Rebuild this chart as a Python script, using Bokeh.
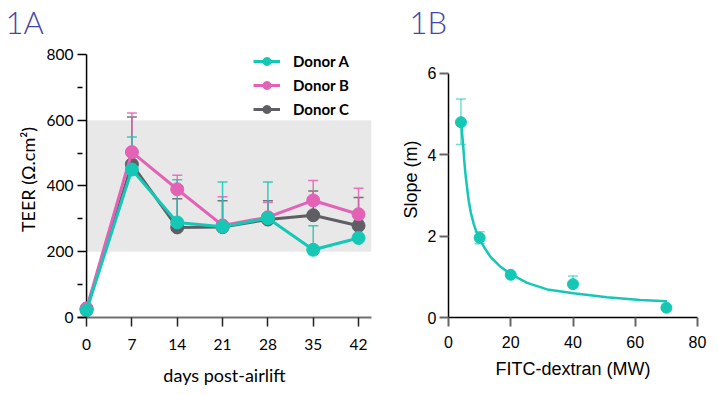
from bokeh.plotting import figure
from bokeh.models import (ColumnDataSource, Whisker, TeeHead, BoxAnnotation,
                          Legend, LegendItem, FixedTicker, Range1d, Title)
from bokeh.layouts import row
from bokeh.embed import file_html
from bokeh.resources import INLINE

# ---------------- data: panel 1A ----------------
days = [0, 7, 14, 21, 28, 35, 42]
day_ticks = [0, 7, 14, 21, 28, 35, 42]
teer_a = [22, 450, 289, 276, 302, 206, 242]
sd_a = [8, 99, 130, 136, 110, 73, 54]
teer_b = [28, 503, 390, 280, 305, 356, 314]
sd_b = [10, 119, 43, 87, 45, 61, 79]
teer_c = [25, 466, 274, 275, 298, 311, 279]
sd_c = [8, 144, 87, 80, 57, 74, 86]
donor_names = ["Donor A", "Donor B", "Donor C"]
teer_ticks = [0, 200, 400, 600, 800]
teer_minor = [100, 300, 500, 700]
band_low, band_high = 200, 600

# ---------------- data: panel 1B ----------------
mw = [4, 10, 20, 40, 70]
slope = [4.8, 1.96, 1.05, 0.82, 0.24]
slope_err_up = [0.57, 0.15, 0.0, 0.2, 0.0]
slope_err_low = [0.55, 0.15, 0.0, 0.0, 0.0]
fit_x = [4.07, 4.4, 4.7, 5.05, 5.46, 6.0, 6.5, 7.2, 8.1, 9.0, 10.0, 11.5, 13.5, 16.5, 20.1, 25.3, 31.7, 40.2, 50.9, 61.6, 70.2]
fit_y = [4.8, 4.5, 4.25, 3.87, 3.52, 3.17, 2.87, 2.57, 2.3, 2.1, 1.94, 1.72, 1.49, 1.26, 1.06, 0.85, 0.69, 0.595, 0.50, 0.43, 0.40]
mw_ticks = [0, 20, 40, 60, 80]
slope_ticks = [0, 2, 4, 6]

TEAL = "#14C8B5"
PINK = "#E462B6"
GREY = "#5E5E64"
TITLE_COL = "#4646AA"
CAL = "Lato"
ARIAL = "Liberation Sans"
TITLE_FONT = "Lato Light, Lato"

# ================= Panel 1A =================
p1 = figure(width=385, height=395, x_range=Range1d(-1.4, 44), y_range=Range1d(0, 839.4),
            output_backend="svg", toolbar_location=None,
            min_border_left=77, min_border_right=14, min_border_top=40, min_border_bottom=78)
p1.outline_line_color = None
p1.xgrid.visible = False
p1.ygrid.visible = False

p1.title = Title(text="1A", align="left", offset=-72, standoff=1,
                 text_font=TITLE_FONT, text_font_size="31px", text_font_style="normal",
                 text_color=TITLE_COL)

band = BoxAnnotation(left=day_ticks[0], bottom=band_low, top=band_high, fill_color="#E8E8E8",
                     fill_alpha=1, line_color=None, level="image")
p1.add_layout(band)

series = [(teer_c, sd_c, GREY), (teer_b, sd_b, PINK), (teer_a, sd_a, TEAL)]
rend = {}
for vals, sd, col in series:
    src = ColumnDataSource(dict(x=days, y=vals, up=[v + s for v, s in zip(vals, sd)]))
    w = Whisker(source=src, base="x", upper="up", lower="y", line_color=col, line_alpha=0.85,
                line_width=1.5, lower_head=None,
                upper_head=TeeHead(size=10, line_color=col, line_alpha=0.85, line_width=1.5))
    p1.add_layout(w)

# y-axis spine at day 0, from the lowest to the highest tick
p1.segment(x0=[day_ticks[0]], y0=[teer_ticks[0]], x1=[day_ticks[0]], y1=[teer_ticks[-1]],
           line_color="black", line_width=1.5)

for vals, sd, col in series:
    src = ColumnDataSource(dict(x=days, y=vals))
    ln = p1.line("x", "y", source=src, line_color=col, line_width=3)
    mk = p1.scatter("x", "y", source=src, size=13, fill_color=col, line_color=col)
    rend[col] = (ln, mk)

p1.xaxis.ticker = FixedTicker(ticks=day_ticks, minor_ticks=[])
p1.xaxis.axis_line_color = "#707070"
p1.xaxis.axis_line_width = 2
p1.xaxis.major_tick_out = 9
p1.xaxis.major_tick_in = 0
p1.xaxis.major_tick_line_color = "#222222"
p1.xaxis.major_tick_line_width = 1.5
p1.xaxis.minor_tick_line_color = None
p1.xaxis.major_label_standoff = 12
p1.xaxis.axis_label = "days post-airlift"
p1.xaxis.axis_label_standoff = 11

p1.yaxis.ticker = FixedTicker(ticks=teer_ticks, minor_ticks=teer_minor)
p1.yaxis.axis_line_color = None
p1.yaxis.major_tick_out = 0
p1.yaxis.major_tick_in = 9
p1.yaxis.minor_tick_out = 0
p1.yaxis.minor_tick_in = 5
p1.yaxis.major_tick_line_color = "black"
p1.yaxis.minor_tick_line_color = "black"
p1.yaxis.major_tick_line_width = 1.5
p1.yaxis.minor_tick_line_width = 1.5
p1.yaxis.major_label_standoff = 4
p1.yaxis.axis_label = "TEER (\u03a9.cm\u00b2)"
p1.yaxis.axis_label_standoff = 5

for ax in (p1.xaxis, p1.yaxis):
    ax.major_label_text_font = CAL
    ax.major_label_text_font_size = "15.5px"
    ax.major_label_text_color = "black"
    ax.axis_label_text_font = CAL
    ax.axis_label_text_font_size = "18px"
    ax.axis_label_text_font_style = "normal"
    ax.axis_label_text_color = "black"

legend = Legend(items=[LegendItem(label=donor_names[0], renderers=list(rend[TEAL])),
                       LegendItem(label=donor_names[1], renderers=list(rend[PINK])),
                       LegendItem(label=donor_names[2], renderers=list(rend[GREY]))],
                location=(176, 198), glyph_width=27, glyph_height=20, label_standoff=13,
                spacing=4, padding=0, margin=0, border_line_color=None,
                background_fill_alpha=0, label_text_font=CAL, label_text_font_style="bold",
                label_text_font_size="15px", label_text_color="black", label_height=20)
p1.add_layout(legend)

# ================= Panel 1B =================
p2 = figure(width=333, height=395, x_range=Range1d(0, 80), y_range=Range1d(0, 6.784),
            output_backend="svg", toolbar_location=None,
            min_border_left=63, min_border_right=21, min_border_top=40, min_border_bottom=78)
p2.outline_line_color = None
p2.xgrid.visible = False
p2.ygrid.visible = False

p2.title = Title(text="1B", align="left", offset=-39, standoff=1,
                 text_font=TITLE_FONT, text_font_size="31px", text_font_style="normal",
                 text_color=TITLE_COL)

p2.line(fit_x, fit_y, line_color=TEAL, line_width=2.5)

up_idx = [i for i in range(len(mw)) if slope_err_up[i] > 0]
w_up = Whisker(source=ColumnDataSource(dict(x=[mw[i] for i in up_idx],
                                            y=[slope[i] for i in up_idx],
                                            up=[slope[i] + slope_err_up[i] for i in up_idx])),
               base="x", upper="up", lower="y", line_color=TEAL, line_alpha=0.6,
               line_width=1.5, lower_head=None,
               upper_head=TeeHead(size=10, line_color=TEAL, line_alpha=0.6, line_width=1.5))
p2.add_layout(w_up)
lo_idx = [i for i in range(len(mw)) if slope_err_low[i] > 0]
w_lo = Whisker(source=ColumnDataSource(dict(x=[mw[i] for i in lo_idx],
                                            y=[slope[i] for i in lo_idx],
                                            lo=[slope[i] - slope_err_low[i] for i in lo_idx])),
               base="x", upper="y", lower="lo", line_color=TEAL, line_alpha=0.6,
               line_width=1.5, upper_head=None,
               lower_head=TeeHead(size=10, line_color=TEAL, line_alpha=0.6, line_width=1.5))
p2.add_layout(w_lo)

p2.scatter(mw, slope, size=11, fill_color=TEAL, line_color=TEAL)

p2.xaxis.ticker = FixedTicker(ticks=mw_ticks, minor_ticks=[])
p2.yaxis.ticker = FixedTicker(ticks=slope_ticks, minor_ticks=[])
p2.yaxis.bounds = (slope_ticks[0], slope_ticks[-1])
for ax in (p2.xaxis, p2.yaxis):
    ax.axis_line_color = "black"
    ax.axis_line_width = 1.5
    ax.major_tick_out = 9
    ax.major_tick_in = 0
    ax.major_tick_line_color = "#666666"
    ax.major_tick_line_width = 2
    ax.minor_tick_line_color = None
    ax.major_label_text_font = ARIAL
    ax.major_label_text_font_size = "16px"
    ax.major_label_text_color = "black"
    ax.axis_label_text_font = ARIAL
    ax.axis_label_text_font_size = "18px"
    ax.axis_label_text_font_style = "normal"
    ax.axis_label_text_color = "black"
p2.xaxis.major_label_standoff = 9
p2.yaxis.major_label_standoff = 3
p2.xaxis.axis_label = "FITC-dextran (MW)"
p2.yaxis.axis_label = "Slope (m)"
p2.xaxis.axis_label_standoff = 8
p2.yaxis.axis_label_standoff = 4

layout = row(p1, p2)
open("out.html", "w").write(file_html(layout, INLINE))
